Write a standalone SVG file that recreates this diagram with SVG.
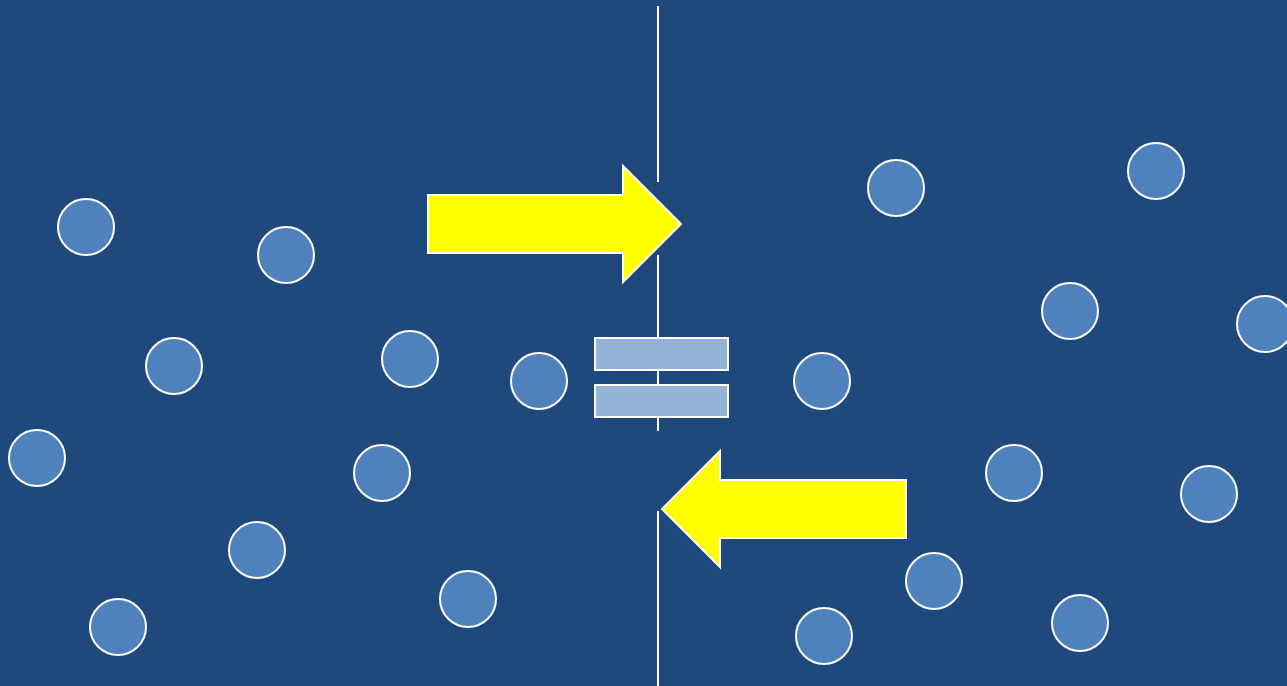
<svg xmlns="http://www.w3.org/2000/svg" width="1287" height="686" viewBox="0 0 1287 686">
  <style>
    .bg { fill: #1f497d; }
    .wall { stroke: #ffffff; stroke-width: 2; fill: none; }
    .particle { fill: #4f81bd; stroke: #ffffff; stroke-width: 2; }
    .flow { fill: #ffff00; stroke: #ffffff; stroke-width: 2; stroke-linejoin: miter; }
    .bar { fill: #95b3d7; stroke: #ffffff; stroke-width: 2; }
  </style>
  <rect class="bg" x="0" y="0" width="1287" height="686"/>

  <!-- dividing membrane -->
  <g id="membrane" class="wall">
    <line x1="658" y1="6" x2="658" y2="182"/>
    <line x1="658" y1="255" x2="658" y2="431"/>
    <line x1="658" y1="511" x2="658" y2="686"/>
  </g>

  <!-- particles on the left side -->
  <g id="left-particles">
    <circle class="particle" cx="86" cy="227" r="28"/>
    <circle class="particle" cx="286" cy="255" r="28"/>
    <circle class="particle" cx="174" cy="366" r="28"/>
    <circle class="particle" cx="410" cy="359" r="28"/>
    <circle class="particle" cx="539" cy="381" r="28"/>
    <circle class="particle" cx="37" cy="458" r="28"/>
    <circle class="particle" cx="382" cy="473" r="28"/>
    <circle class="particle" cx="257" cy="550" r="28"/>
    <circle class="particle" cx="118" cy="627" r="28"/>
    <circle class="particle" cx="468" cy="599" r="28"/>
  </g>

  <!-- particles on the right side -->
  <g id="right-particles">
    <circle class="particle" cx="896" cy="188" r="28"/>
    <circle class="particle" cx="1156" cy="171" r="28"/>
    <circle class="particle" cx="1070" cy="311" r="28"/>
    <circle class="particle" cx="1265" cy="324" r="28"/>
    <circle class="particle" cx="822" cy="381" r="28"/>
    <circle class="particle" cx="1014" cy="473" r="28"/>
    <circle class="particle" cx="1209" cy="494" r="28"/>
    <circle class="particle" cx="934" cy="581" r="28"/>
    <circle class="particle" cx="824" cy="636" r="28"/>
    <circle class="particle" cx="1080" cy="623" r="28"/>
  </g>

  <!-- flow arrows -->
  <g id="flow-right">
    <polygon class="flow" points="428,195 623,195 623,166 681,224 623,282 623,253 428,253"/>
  </g>
  <g id="flow-left">
    <polygon class="flow" points="906,480 720,480 720,451 662,509 720,567 720,538 906,538"/>
  </g>

  <!-- equilibrium sign -->
  <g id="equals">
    <rect class="bar" x="595" y="338" width="133" height="32"/>
    <rect class="bar" x="595" y="385" width="133" height="32"/>
  </g>
</svg>
